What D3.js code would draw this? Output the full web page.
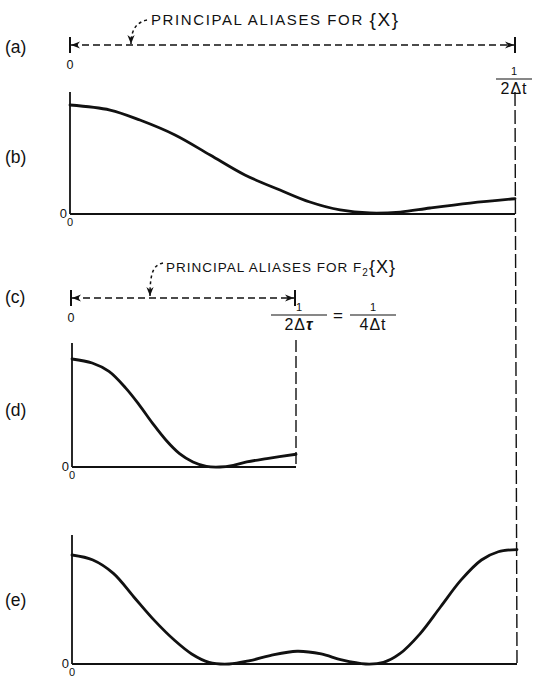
<!DOCTYPE html>
<html><head><meta charset="utf-8">
<script src="https://cdn.jsdelivr.net/npm/d3@7"></script>
<style>
body{margin:0;background:#fff}
text{font-family:"Liberation Sans",Arial,Helvetica,sans-serif;fill:#111}
</style>
</head><body>
<svg id="chart" width="534" height="679"></svg>
<script>
// Frequency is expressed as a fraction of each panel's folding range,
// power as a fraction of the value at zero frequency.
const freqB  = [0, .09, .157, .236, .315, .393, .472, .539, .607, .674, .742, .809, .899, 1];
const powerB = [1, .954, .862, .725, .541, .358, .22, .11, .037, .009, .018, .055, .10, .14];

const freqD  = [0, .09, .165, .24, .30, .36, .42, .48, .54, .60, .66, .72, .78, .87, 1];
const powerD = [1, .963, .885, .73, .575, .404, .248, .124, .047, .006, 0, .016, .047, .078, .118];

const freqE  = [0, .047, .093, .139, .185, .231, .269, .308, .353, .40, .445, .506, .56, .606, .66, .70, .736, .782, .828, .874, .92, .958, 1];
const powerE = [1, .954, .831, .615, .40, .215, .092, .015, 0, .031, .077, .117, .092, .037, 0, .015, .092, .277, .523, .769, .954, 1.03, 1.05];

const panelLabels = ["(a)", "(b)", "(c)", "(d)", "(e)"];
const aliasTextA = "PRINCIPAL  ALIASES  FOR ";
const aliasTextC = "PRINCIPAL  ALIASES  FOR F";

const svg = d3.select("#chart");
const ink = "#111";

// arrowheads
const defs = svg.append("defs");
defs.append("marker").attr("id", "tipEnd").attr("viewBox", "0 0 10 10")
  .attr("refX", 10).attr("refY", 5).attr("markerWidth", 9).attr("markerHeight", 9)
  .attr("markerUnits", "userSpaceOnUse").attr("orient", "auto")
  .append("path").attr("d", "M0,1 L10,5 L0,9 L3,5 Z").attr("fill", ink);
defs.append("marker").attr("id", "tipStart").attr("viewBox", "0 0 10 10")
  .attr("refX", 0).attr("refY", 5).attr("markerWidth", 9).attr("markerHeight", 9)
  .attr("markerUnits", "userSpaceOnUse").attr("orient", "auto")
  .append("path").attr("d", "M10,1 L0,5 L10,9 L7,5 Z").attr("fill", ink);

// ---- range bar: |<---- ---->|
function rangeBar(x0, x1, y, leaderFrom, leaderTip) {
  const g = svg.append("g");
  g.append("line").attr("x1", x0).attr("x2", x0).attr("y1", y - 8).attr("y2", y + 8)
    .attr("stroke", ink).attr("stroke-width", 2);
  g.append("line").attr("x1", x1).attr("x2", x1).attr("y1", y - 8).attr("y2", y + 8)
    .attr("stroke", ink).attr("stroke-width", 2);
  g.append("line").attr("x1", x0 + 1).attr("x2", x1 - 1).attr("y1", y).attr("y2", y)
    .attr("stroke", ink).attr("stroke-width", 1.6).attr("stroke-dasharray", "7,4")
    .attr("marker-start", "url(#tipStart)").attr("marker-end", "url(#tipEnd)");
  // curved leader from the caption down to the bar
  const [fx, fy] = leaderFrom, [tx, ty] = leaderTip;
  g.append("path")
    .attr("d", `M${fx},${fy} C${fx - 9},${fy + 2} ${tx},${fy + 8} ${tx},${ty}`)
    .attr("fill", "none").attr("stroke", ink).attr("stroke-width", 1.5)
    .attr("stroke-dasharray", "3,3").attr("marker-end", "url(#tipEnd)");
  g.append("text").attr("x", x0).attr("y", y + 24).attr("text-anchor", "middle")
    .attr("font-size", 12.5).text("0");
}

// ---- spectrum panel
function spectrum(x0, x1, base, peak, axisTop, freq, power, rightEdge) {
  const x = d3.scaleLinear().domain([0, 1]).range([x0, x1]);
  const y = d3.scaleLinear().domain([0, 1]).range([base, peak]);
  const g = svg.append("g");
  g.append("line").attr("x1", x0).attr("x2", x0).attr("y1", axisTop).attr("y2", base)
    .attr("stroke", ink).attr("stroke-width", 1.8);
  g.append("line").attr("x1", x0).attr("x2", x1).attr("y1", base).attr("y2", base)
    .attr("stroke", ink).attr("stroke-width", 1.8);
  if (rightEdge) {
    g.append("line").attr("x1", x1).attr("x2", x1).attr("y1", rightEdge).attr("y2", base)
      .attr("stroke", ink).attr("stroke-width", 1.4).attr("stroke-dasharray", "12,4");
  }
  const pts = freq.map((f, i) => [f, power[i]]);
  g.append("path").datum(pts)
    .attr("d", d3.line().x(d => x(d[0])).y(d => y(d[1])).curve(d3.curveCatmullRom.alpha(0.5)))
    .attr("fill", "none").attr("stroke", ink).attr("stroke-width", 2.8)
    .attr("stroke-linecap", "round");
  g.append("text").attr("x", x0 - 3).attr("y", base + 4).attr("text-anchor", "end")
    .attr("font-size", 13).text("0");
  g.append("text").attr("x", x0).attr("y", base + 12).attr("text-anchor", "middle")
    .attr("font-size", 11).text("0");
  return x;
}

// panel letters
const labelY = [53, 163, 303, 416, 606];
panelLabels.forEach((t, i) => {
  svg.append("text").attr("x", 5).attr("y", labelY[i]).attr("font-size", 17.5).text(t);
});

// (a) principal aliases for {X}
rangeBar(70, 515, 45, [147, 20], [131, 44]);
svg.append("text").attr("x", 151).attr("y", 25).attr("font-size", 15)
  .attr("letter-spacing", 1.6).text(aliasTextA)
  .append("tspan").attr("font-size", 19).attr("dy", 1).text("{X}");

// fraction labels
function fraction(cx, y, num, den, w) {
  const g = svg.append("g");
  g.append("text").attr("x", cx).attr("y", y).attr("text-anchor", "middle")
    .attr("font-size", 11).text(num);
  g.append("line").attr("x1", cx - w / 2).attr("x2", cx + w / 2)
    .attr("y1", y + 4).attr("y2", y + 4).attr("stroke", ink).attr("stroke-width", 1.2);
  const t = g.append("text").attr("x", cx).attr("y", y + 19).attr("text-anchor", "middle")
    .attr("font-size", 16).attr("letter-spacing", 1);
  den.forEach(p => {
    const s = t.append("tspan").text(p.t);
    if (p.i) s.attr("font-style", "italic").attr("font-weight", "bold");
  });
}
fraction(514, 75, "1", [{t: "2\u0394t"}], 36);

// vertical fold line shared by (a), (b) and (e)
svg.append("line").attr("x1", 515).attr("x2", 517).attr("y1", 92).attr("y2", 663)
  .attr("stroke", ink).attr("stroke-width", 1.4).attr("stroke-dasharray", "14,4");

// (b)
spectrum(70, 515, 214, 105, 92, freqB, powerB, null);

// (c) principal aliases for F2{X}
rangeBar(71, 295, 298, [163, 263], [150, 296]);
const tc = svg.append("text").attr("x", 166).attr("y", 272).attr("font-size", 13.5)
  .attr("letter-spacing", 1.0).text(aliasTextC);
tc.append("tspan").attr("font-size", 10).attr("dy", 4).text("2");
tc.append("tspan").attr("font-size", 18).attr("dy", -3).text("{X}");

fraction(299, 311, "1", [{t: "2\u0394"}, {t: "\u03c4", i: true}], 56);
svg.append("text").attr("x", 338).attr("y", 321).attr("text-anchor", "middle")
  .attr("font-size", 17).text("=");
fraction(373, 311, "1", [{t: "4\u0394t"}], 46);

// (d)
spectrum(72, 296, 467, 359, 343, freqD, powerD, 340);

// (e)
spectrum(72, 517, 664, 555, 535, freqE, powerE, null);
</script>
</body></html>
